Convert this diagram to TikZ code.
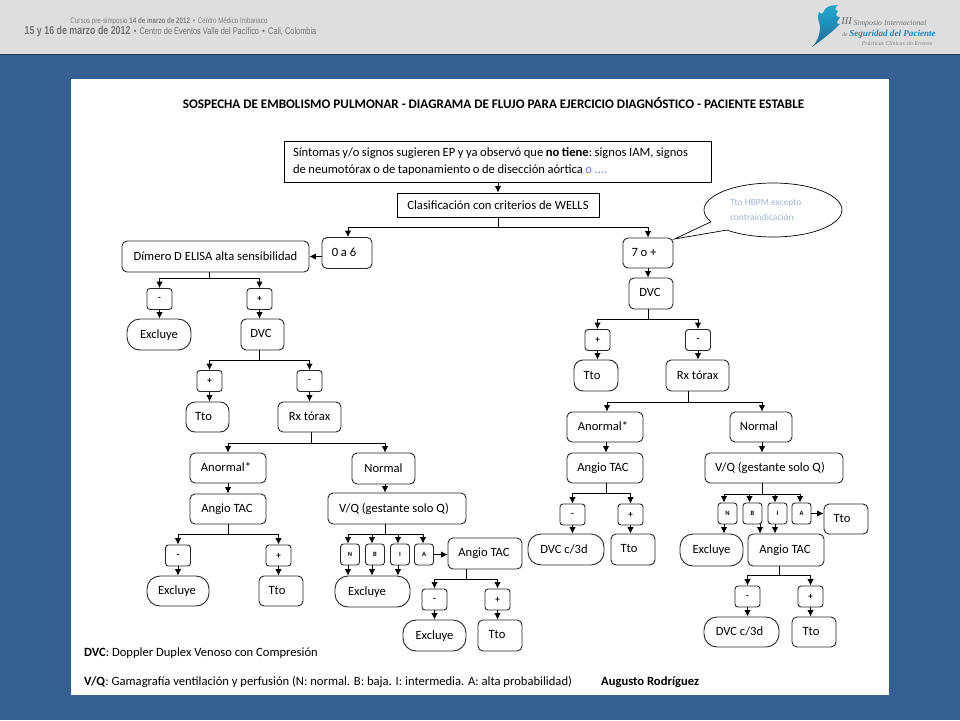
\documentclass[tikz,border=0pt]{standalone}
\usepackage{fontspec}
\setmainfont{Carlito}
\newfontfamily\headfont{Liberation Sans}
\newfontfamily\logofont{Liberation Serif}
\usepackage{tikz}
\usetikzlibrary{arrows,arrows.meta,%
                shapes,positioning}
\definecolor{panelblue}{HTML}{366092}
\definecolor{headgray}{HTML}{DEDEDE}
\definecolor{bubbletext}{HTML}{9FB5D8}
\definecolor{logoblue}{HTML}{2A86BC}
\newcommand{\upt}[1]{\raisebox{1.5pt}{#1}}
\newcommand{\dwn}[1]{\raisebox{-2pt}{#1}}
\newcommand{\lft}[2]{\hspace*{-#1pt}#2}
\tikzset{
  sqbox/.style={draw,line width=0.9pt,inner sep=0pt,font=\fontsize{12.6}{17}\selectfont},
  rbox/.style={sqbox,rounded corners=5pt,draw=black!85},
  pillbox/.style={rbox,rounded corners=13pt,text height=8.4pt,text depth=0.7pt},
  signbox/.style={rbox,rounded corners=3pt,minimum width=25,minimum height=21,font=\fontsize{9}{10}\bfseries\selectfont},
  letbox/.style={rbox,rounded corners=3pt,minimum width=19,minimum height=21,font=\fontsize{6.5}{8}\bfseries\selectfont},
  arr/.style={-{Latex[length=6.5pt,width=6.5pt]},line width=0.9pt},
  lin/.style={line width=0.9pt},
  foot/.style={inner sep=0pt,anchor=west,font=\fontsize{12.6}{14}\selectfont}
}
\begin{document}
\begin{tikzpicture}[x=1pt,y=-1pt]
\useasboundingbox (0,0) rectangle (960,720);
\fill[panelblue] (0,0) rectangle (960,720);
\fill[headgray] (0,0) rectangle (960,53.5);
\draw[line width=1pt,panelblue!60!black] (0,54) -- (960,54);
\fill[white] (71,79) rectangle (889,695);
% header
\node[inner sep=0pt,text=black!50,font=\headfont\fontsize{8}{9}\selectfont] (cursos) at (169,21) {\scalebox{.78}[1]{Cursos pre-simposio \textbf{14 de marzo de 2012} \,•\, Centro Médico Imbanaco}};
\node[inner sep=0pt,text=black!55,font=\headfont\fontsize{9.6}{11}\selectfont] (fecha) at (170.5,32) {\scalebox{.77}[1]{\textbf{\fontsize{11.5}{12}\selectfont 15 y 16 de marzo de 2012} \,•\, Centro de Eventos Valle del Pacífico \,•\, Cali, Colombia}};
\shade[top color=logoblue!70!cyan,bottom color=logoblue!80!black]
  (812,47) .. controls (818,41) and (820,34) .. (820,27)
  .. controls (820,22) and (816,18) .. (819,12)
  .. controls (821,15) and (823,14) .. (825,9)
  .. controls (828,6) and (832,5) .. (838,5)
  .. controls (835,8) and (834,10) .. (838,11)
  .. controls (835,15) and (836,17) .. (840,17)
  .. controls (837,22) and (835,24) .. (840,24)
  .. controls (833,31) and (826,37) .. cycle;
\node[inner sep=0pt,text=black!60,font=\logofont\itshape\fontsize{10.5}{11}\selectfont] (tres) at (846.5,21) {III};
\node[inner sep=0pt,text=black!55,font=\logofont\itshape\fontsize{7.8}{9}\selectfont] (simp) at (890,24) {Simposio Internacional};
\node[inner sep=0pt,text=black!55,font=\logofont\itshape\fontsize{5.5}{6}\selectfont] (dele) at (845,34.5) {de};
\node[inner sep=0pt,text=logoblue,font=\logofont\bfseries\itshape\fontsize{9.1}{10}\selectfont] (segur) at (892.5,34) {Seguridad del Paciente};
\node[inner sep=0pt,text=black!50,font=\logofont\itshape\fontsize{5.8}{7}\selectfont] (pract) at (897,44) {Prácticas Clínicas sin Errores};
% title
\node[inner sep=0pt,font=\fontsize{13.1}{15}\bfseries\selectfont] (titulo) at (493.5,103) {SOSPECHA DE EMBOLISMO PULMONAR - DIAGRAMA DE FLUJO PARA EJERCICIO DIAGNÓSTICO - PACIENTE ESTABLE};
% top boxes
\node[sqbox,minimum width=427,minimum height=41,text width=409,align=left] (sint) at (497.5,161.5) {\frenchspacing\spaceskip=.2em Síntomas y/o signos sugieren EP y ya observó que \textbf{no\ tiene}: signos IAM, signos\\de neumotórax o de taponamiento o de disección aórtica {\color{bubbletext!70!blue}o ....}};
\node[sqbox,minimum width=202,minimum height=24] (wells) at (498,205) {Clasificación con criterios de WELLS};
\node[rbox,minimum width=50,minimum height=31] (cero) at (347,253) {\lft{6}{\upt{0 a 6}}};
\node[rbox,minimum width=50,minimum height=30] (siete) at (648,253) {\lft{8}{\upt{7 o +}}};
\node[ellipse callout,draw,line width=0.7pt,minimum width=138,minimum height=54,inner sep=0pt,
  callout absolute pointer={(674.5,239)},callout pointer arc=22,text=bubbletext,
  font=\fontsize{9.5}{15}\selectfont] (globo) at (773,210) {\raisebox{3pt}{\parbox{86pt}{Tto HBPM  excepto\\contraindicación}}};
% left branch
\node[rbox,minimum width=187,minimum height=31] (dimero) at (215.5,256.5) {Dímero D ELISA alta sensibilidad};
\node[signbox] (dmen) at (159.5,299) {\dwn{-}};
\node[signbox] (dmas) at (259.5,299) {\dwn{+}};
\node[pillbox,minimum width=64,minimum height=31] (exc1) at (159,334.5) {Excluye};
\node[rbox,minimum width=43,minimum height=31] (dvc1) at (262.5,334.5) {\lft{3}{\upt{DVC}}};
\node[signbox] (vmas) at (209.5,381) {\dwn{+}};
\node[signbox] (vmen) at (309.5,381) {\dwn{-}};
\node[pillbox,minimum width=43,minimum height=30,rounded corners=9pt] (tto1) at (207.5,417) {\lft{8}{Tto}};
\node[rbox,minimum width=63,minimum height=30] (rx1) at (309.5,417) {\upt{Rx tórax}};
\node[rbox,minimum width=76,minimum height=30] (anor1) at (228,468) {\lft{4}{\upt{Anormal*}}};
\node[rbox,minimum width=63,minimum height=31] (norm1) at (383.5,468.5) {\upt{Normal}};
\node[rbox,minimum width=76,minimum height=30] (tac1) at (228,509) {\lft{2}{\upt{Angio TAC}}};
\node[rbox,minimum width=138,minimum height=31] (vq1) at (397,508.5) {\lft{6}{\upt{V/Q (gestante solo Q)}}};
\node[signbox] (amen) at (178,555.5) {\dwn{-}};
\node[signbox] (amas) at (278.5,555.5) {\dwn{+}};
\node[pillbox,minimum width=62,minimum height=30] (exc2) at (178,591) {\lft{2}{Excluye}};
\node[rbox,minimum width=44,minimum height=30] (tto2) at (281,591) {\lft{8}{\upt{Tto}}};
\node[letbox] (n1) at (350,554.5) {N};
\node[letbox] (b1) at (375,554.5) {B};
\node[letbox] (i1) at (400,554.5) {I};
\node[letbox] (a1) at (424,554.5) {A};
\node[pillbox,minimum width=75,minimum height=31] (exc3) at (372.5,591.5) {\lft{11}{Excluye}};
\node[rbox,minimum width=74,minimum height=31] (tac2) at (485,553.5) {\lft{2}{\upt{Angio TAC}}};
\node[signbox] (bmen) at (434.5,599.5) {\dwn{-}};
\node[signbox] (bmas) at (497.5,599.5) {\dwn{+}};
\node[pillbox,minimum width=63,minimum height=31] (exc4) at (434.5,635.5) {Excluye};
\node[rbox,minimum width=44,minimum height=31] (tto3) at (500,635.5) {\lft{6}{\upt{Tto}}};
% right branch
\node[rbox,minimum width=44,minimum height=31] (dvc2) at (651,293.5) {\lft{2}{\upt{DVC}}};
\node[signbox] (wmas) at (597.5,340) {\dwn{+}};
\node[signbox] (wmen) at (698,340) {\dwn{-}};
\node[pillbox,minimum width=44,minimum height=31,rounded corners=9pt] (tto4) at (596,375.5) {\lft{8}{Tto}};
\node[rbox,minimum width=63,minimum height=31] (rx2) at (697.5,375.5) {Rx tórax};
\node[rbox,minimum width=76,minimum height=30] (anor2) at (605,427) {\lft{4}{\upt{Anormal*}}};
\node[rbox,minimum width=62,minimum height=30] (norm2) at (761,427) {\lft{4}{\upt{Normal}}};
\node[rbox,minimum width=76,minimum height=30] (tac3) at (605,468) {\lft{4}{\upt{Angio TAC}}};
\node[rbox,minimum width=138,minimum height=30] (vq2) at (774,468) {\lft{8}{\upt{V/Q (gestante solo Q)}}};
\node[signbox] (cmen) at (572.5,514.5) {\dwn{-}};
\node[signbox] (cmas) at (630.5,514.5) {\dwn{+}};
\node[pillbox,minimum width=76,minimum height=31] (dvc3) at (566,549.5) {\lft{4}{DVC c/3d}};
\node[rbox,minimum width=44,minimum height=31] (tto5) at (633,549.5) {\lft{8}{\upt{Tto}}};
\node[letbox] (n2) at (727.5,513.5) {N};
\node[letbox] (b2) at (752.5,513.5) {B};
\node[letbox] (i2) at (777.5,513.5) {I};
\node[letbox] (a2) at (801.5,513.5) {A};
\node[rbox,minimum width=44,minimum height=30] (tto6) at (846,519) {\lft{8}{\upt{Tto}}};
\node[pillbox,minimum width=63,minimum height=32] (exc5) at (711.5,550) {Excluye};
\node[rbox,minimum width=76,minimum height=32] (tac4) at (786,550) {\lft{2}{\upt{Angio TAC}}};
\node[signbox] (emen) at (747.5,596.5) {\dwn{-}};
\node[signbox] (emas) at (810.5,596.5) {\dwn{+}};
\node[pillbox,minimum width=75,minimum height=30] (dvc4) at (741.5,632) {\lft{4}{DVC c/3d}};
\node[rbox,minimum width=44,minimum height=30] (tto7) at (814,632) {\lft{6}{\upt{Tto}}};
% junctions
\coordinate (jw) at (498,227);
\coordinate (jd) at (209,278);
\coordinate (jv) at (259,360);
\coordinate (jr) at (311,443);
\coordinate (ja) at (228,534);
\coordinate (jq) at (385,534);
\coordinate (jt) at (466,579);
\coordinate (jc) at (648,319);
\coordinate (js) at (688,402);
\coordinate (jb) at (606,493);
\coordinate (jn) at (762,494);
\coordinate (jf) at (779,575.5);
% connectors
\draw[arr] (sint.south -| jw) -- (wells.north -| jw);
\draw[lin] (wells.south -| jw) -- (jw);
\draw[arr] (jw) -| ([xshift=1pt]cero.north);
\draw[arr] (jw) -| (siete.north);
\draw[arr] (cero.west |- dimero.east) -- (dimero.east);
\draw[lin] (dimero.south -| jd) -- (jd);
\draw[arr] (jd) -| (dmen.north);
\draw[arr] (jd) -| (dmas.north);
\draw[arr] (dmen.south) -- (exc1.north -| dmen);
\draw[arr] (dmas.south) -- (dvc1.north -| dmas);
\draw[lin] (dvc1.south -| jv) -- (jv);
\draw[arr] (jv) -| (vmas.north);
\draw[arr] (jv) -| (vmen.north);
\draw[arr] (vmas.south) -- (tto1.north -| vmas);
\draw[arr] (vmen.south) -- (rx1.north);
\draw[lin] (rx1.south -| jr) -- (jr);
\draw[arr] (jr) -| (anor1.north);
\draw[arr] (jr) -| (jq |- norm1.north);
\draw[arr] (anor1.south) -- (tac1.north);
\draw[arr] (norm1.south -| jq) -- (vq1.north -| jq);
\draw[lin] (tac1.south) -- (ja);
\draw[arr] (ja) -| (amen.north);
\draw[arr] (ja) -| (amas.north);
\draw[arr] (amen.south) -- (exc2.north);
\draw[arr] (amas.south) -- (tto2.north -| amas);
\draw[lin] (vq1.south -| jq) -- (jq);
\draw[arr] (jq) -| ([xshift=-2pt]n1.north);
\draw[arr] (jq) -| ([xshift=-3pt]b1.north);
\draw[arr] (jq) -| ([xshift=-2pt]i1.north);
\draw[arr] (jq) -| ([xshift=-1pt]a1.north);
\draw[arr] ([xshift=-2pt]n1.south) -- ([xshift=-2pt]n1.south |- exc3.north);
\draw[arr] ([xshift=-3pt]b1.south) -- ([xshift=-3pt]b1.south |- exc3.north);
\draw[arr] ([xshift=-2pt]i1.south) -- ([xshift=-2pt]i1.south |- exc3.north);
\draw[arr] (a1.east) -- (tac2.west |- a1.east);
\draw[lin] (tac2.south -| jt) -- (jt);
\draw[arr] (jt) -| (bmen.north);
\draw[arr] (jt) -| (bmas.north);
\draw[arr] (bmen.south) -- (exc4.north);
\draw[arr] (bmas.south) -- (tto3.north -| bmas);
\draw[arr] (siete.south) -- (dvc2.north -| siete);
\draw[lin] (dvc2.south -| jc) -- (jc);
\draw[arr] (jc) -| (wmas.north);
\draw[arr] (jc) -| (wmen.north);
\draw[arr] (wmas.south) -- (tto4.north -| wmas);
\draw[arr] (wmen.south) -- (rx2.north -| wmen);
\draw[lin] (rx2.south -| js) -- (js);
\draw[arr] (js) -| ([xshift=2pt]anor2.north);
\draw[arr] (js) -| ([xshift=1pt]norm2.north);
\draw[arr] ([xshift=1pt]anor2.south) -- ([xshift=1pt]tac3.north);
\draw[arr] (norm2.south -| jn) -- (vq2.north -| jn);
\draw[lin] (tac3.south -| jb) -- (jb);
\draw[arr] (jb) -| (cmen.north);
\draw[arr] (jb) -| (cmas.north);
\draw[arr] (cmen.south) -- (dvc3.north -| cmen);
\draw[arr] (cmas.south) -- (tto5.north -| cmas);
\draw[lin] (vq2.south -| jn) -- (jn);
\draw[arr] (jn) -| ([xshift=-3.5pt]n2.north);
\draw[arr] (jn) -| ([xshift=-3pt]b2.north);
\draw[arr] (jn) -| ([xshift=-2.5pt]i2.north);
\draw[arr] (jn) -| ([xshift=-1.5pt]a2.north);
\draw[arr] ([xshift=-3.5pt]n2.south) -- ([xshift=-3.5pt]n2.south |- exc5.north);
\draw[arr] ([xshift=7.5pt]b2.south) -- ([xshift=7.5pt]b2.south |- tac4.north);
\draw[arr] ([xshift=-2.5pt]i2.south) -- ([xshift=-2.5pt]i2.south |- tac4.north);
\draw[arr] (a2.east) -- (tto6.west |- a2.east);
\draw[lin] (tac4.south -| jf) -- (jf);
\draw[arr] (jf) -| (emen.north);
\draw[arr] (jf) -| (emas.north);
\draw[arr] (emen.south) -- (dvc4.north -| emen);
\draw[arr] (emas.south) -- (tto7.north -| emas);
% footer
\node[foot] (ley1) at (84,653.5) {\textbf{DVC}: Doppler Duplex Venoso con Compresión};
\node[foot] (ley2) at (84,682) {\textbf{V/Q}: Gamagrafía ventilación y perfusión (N: normal. B: baja. I: intermedia. A: alta probabilidad)};
\node[foot] (autor) at (601,682) {\textbf{Augusto Rodríguez}};
\end{tikzpicture}
\end{document}
